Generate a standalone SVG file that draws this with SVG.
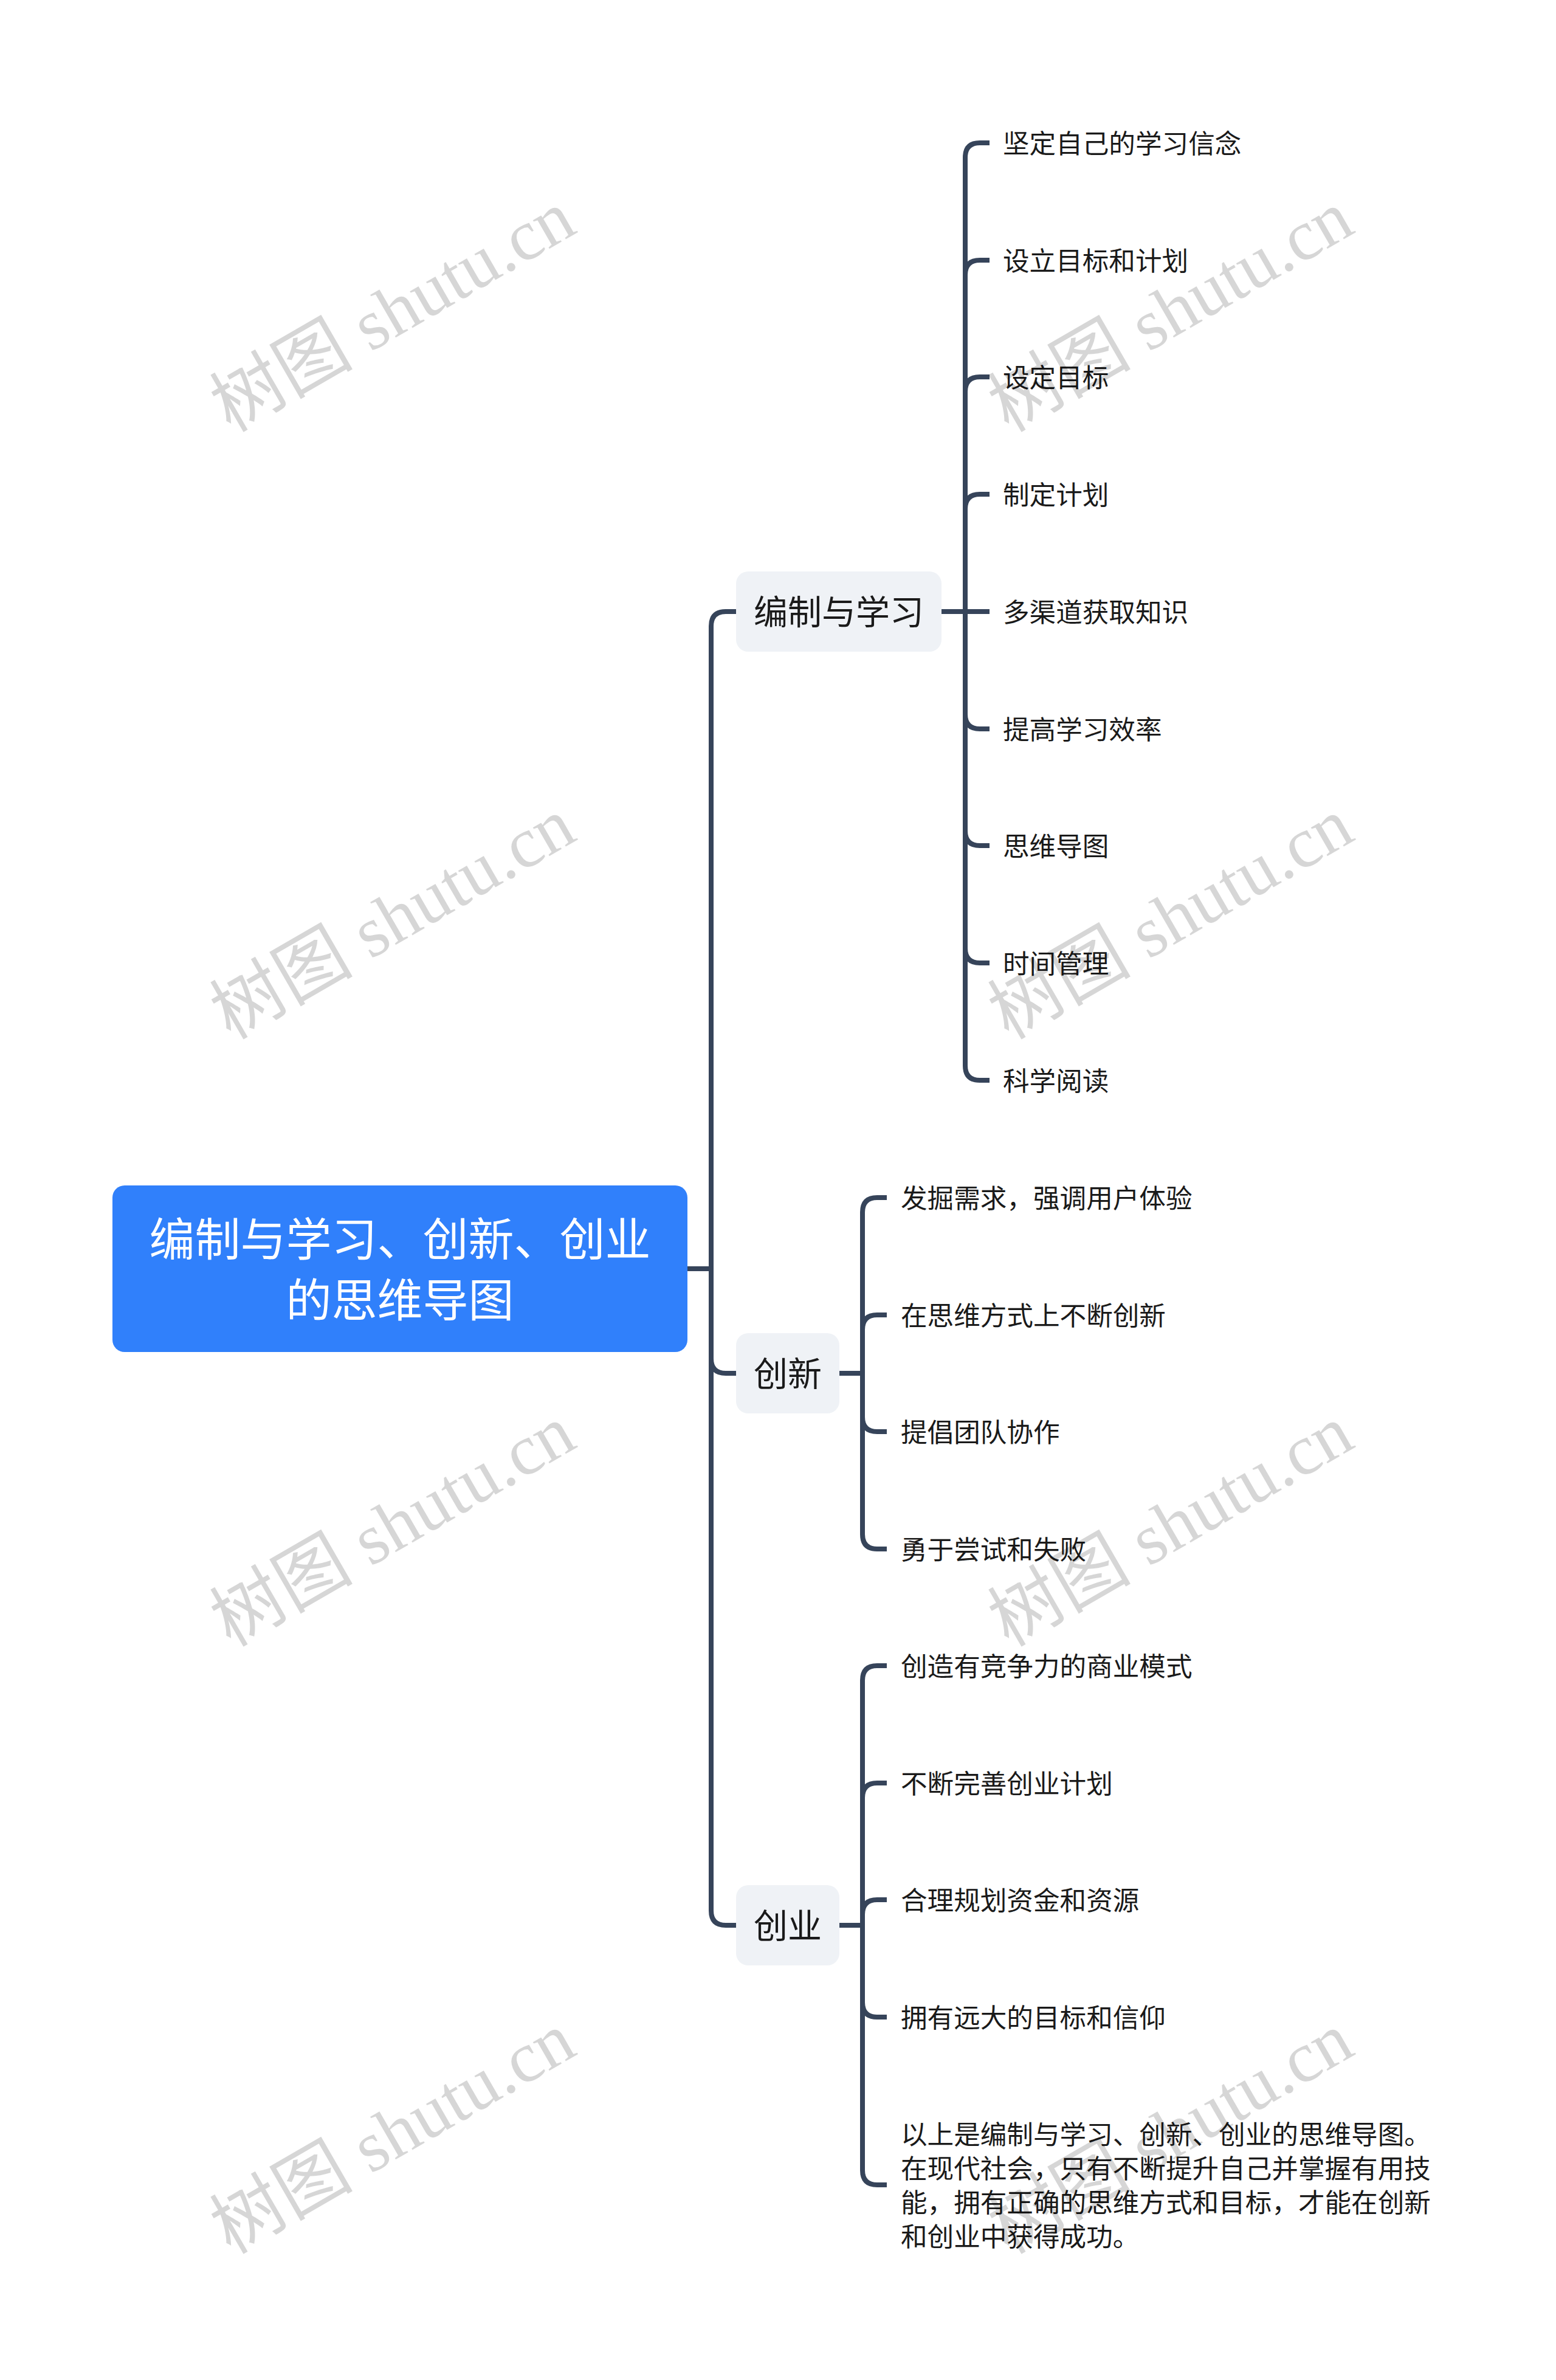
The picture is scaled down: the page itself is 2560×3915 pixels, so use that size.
<svg xmlns="http://www.w3.org/2000/svg" width="2560" height="3915" viewBox="0 0 2560 3915">
<style>
.bg{fill:#ffffff}
.root{fill:#3080fb}
.rootText{font-family:"Noto Sans CJK SC","Noto Sans",sans-serif;font-size:75px;fill:#ffffff;text-anchor:middle}
.branch{fill:#eff2f6}
.branchText{font-family:"Noto Sans CJK SC","Noto Sans",sans-serif;font-size:56px;fill:#1a1a1a;text-anchor:middle}
.leafText{font-family:"Noto Sans CJK SC","Noto Sans",sans-serif;font-size:43.6px;fill:#1a1a1a}
.conn{fill:none;stroke:#36445a;stroke-width:8;stroke-linecap:butt;stroke-linejoin:round}
.wm{font-family:"Liberation Serif","Noto Sans CJK SC",serif;font-size:118px;fill:#000000;fill-opacity:0.16;text-anchor:middle}
</style>
<rect class="bg" x="0" y="0" width="2560" height="3915"/>

<g id="connectors">
  <path class="conn" d="M1131,2087 H1170 V1030 Q1170,1006 1194,1006 H1211"/>
  <path class="conn" d="M1131,2087 H1170 V2235 Q1170,2259 1194,2259 H1211"/>
  <path class="conn" d="M1131,2087 H1170 V3143 Q1170,3167 1194,3167 H1211"/>
  <path class="conn" d="M1549,1006 H1588 V259 Q1588,235 1612,235 H1628"/>
  <path class="conn" d="M1549,1006 H1588 V452 Q1588,428 1612,428 H1628"/>
  <path class="conn" d="M1549,1006 H1588 V644 Q1588,620 1612,620 H1628"/>
  <path class="conn" d="M1549,1006 H1588 V837 Q1588,813 1612,813 H1628"/>
  <path class="conn" d="M1549,1006 H1628"/>
  <path class="conn" d="M1549,1006 H1588 V1175 Q1588,1199 1612,1199 H1628"/>
  <path class="conn" d="M1549,1006 H1588 V1367 Q1588,1391 1612,1391 H1628"/>
  <path class="conn" d="M1549,1006 H1588 V1560 Q1588,1584 1612,1584 H1628"/>
  <path class="conn" d="M1549,1006 H1588 V1753 Q1588,1777 1612,1777 H1628"/>
  <path class="conn" d="M1381,2259 H1419 V1994 Q1419,1970 1443,1970 H1459"/>
  <path class="conn" d="M1381,2259 H1419 V2187 Q1419,2163 1443,2163 H1459"/>
  <path class="conn" d="M1381,2259 H1419 V2331 Q1419,2355 1443,2355 H1459"/>
  <path class="conn" d="M1381,2259 H1419 V2524 Q1419,2548 1443,2548 H1459"/>
  <path class="conn" d="M1381,3167 H1419 V2764 Q1419,2740 1443,2740 H1459"/>
  <path class="conn" d="M1381,3167 H1419 V2957 Q1419,2933 1443,2933 H1459"/>
  <path class="conn" d="M1381,3167 H1419 V3149 Q1419,3125 1443,3125 H1459"/>
  <path class="conn" d="M1381,3167 H1419 V3294 Q1419,3318 1443,3318 H1459"/>
  <path class="conn" d="M1381,3167 H1419 V3570 Q1419,3594 1443,3594 H1459"/>
</g>

<g id="root">
  <rect class="root" x="185" y="1950" width="946" height="274" rx="20"/>
  <text class="rootText" x="658" y="2066">编制与学习、创新、创业</text>
  <text class="rootText" x="658" y="2166">的思维导图</text>
</g>

<g id="branch-xuexi">
  <rect class="branch" x="1211" y="940" width="338" height="132" rx="20"/>
  <text class="branchText" x="1380" y="1027">编制与学习</text>
</g>
<g id="branch-chuangxin">
  <rect class="branch" x="1211" y="2193" width="170" height="132" rx="20"/>
  <text class="branchText" x="1296" y="2280">创新</text>
</g>
<g id="branch-chuangye">
  <rect class="branch" x="1211" y="3101" width="170" height="132" rx="20"/>
  <text class="branchText" x="1296" y="3188">创业</text>
</g>

<g id="leaf-1"><text class="leafText" x="1650" y="252">坚定自己的学习信念</text></g>
<g id="leaf-2"><text class="leafText" x="1650" y="445">设立目标和计划</text></g>
<g id="leaf-3"><text class="leafText" x="1650" y="637">设定目标</text></g>
<g id="leaf-4"><text class="leafText" x="1650" y="830">制定计划</text></g>
<g id="leaf-5"><text class="leafText" x="1650" y="1023">多渠道获取知识</text></g>
<g id="leaf-6"><text class="leafText" x="1650" y="1216">提高学习效率</text></g>
<g id="leaf-7"><text class="leafText" x="1650" y="1408">思维导图</text></g>
<g id="leaf-8"><text class="leafText" x="1650" y="1601">时间管理</text></g>
<g id="leaf-9"><text class="leafText" x="1650" y="1794">科学阅读</text></g>

<g id="leaf-10"><text class="leafText" x="1482" y="1987">发掘需求，强调用户体验</text></g>
<g id="leaf-11"><text class="leafText" x="1482" y="2180">在思维方式上不断创新</text></g>
<g id="leaf-12"><text class="leafText" x="1482" y="2372">提倡团队协作</text></g>
<g id="leaf-13"><text class="leafText" x="1482" y="2565">勇于尝试和失败</text></g>

<g id="leaf-14"><text class="leafText" x="1482" y="2757">创造有竞争力的商业模式</text></g>
<g id="leaf-15"><text class="leafText" x="1482" y="2950">不断完善创业计划</text></g>
<g id="leaf-16"><text class="leafText" x="1482" y="3142">合理规划资金和资源</text></g>
<g id="leaf-17"><text class="leafText" x="1482" y="3335">拥有远大的目标和信仰</text></g>
<g id="leaf-18">
  <text class="leafText" x="1482" y="3527">以上是编制与学习、创新、创业的思维导图。</text>
  <text class="leafText" x="1482" y="3583">在现代社会，只有不断提升自己并掌握有用技</text>
  <text class="leafText" x="1482" y="3639">能，拥有正确的思维方式和目标，才能在创新</text>
  <text class="leafText" x="1482" y="3695">和创业中获得成功。</text>
</g>

<g id="watermarks">
  <text class="wm" x="646" y="552" transform="rotate(-30 646 512)">树图 shutu.cn</text>
  <text class="wm" x="1926" y="552" transform="rotate(-30 1926 512)">树图 shutu.cn</text>
  <text class="wm" x="646" y="1551" transform="rotate(-30 646 1511)">树图 shutu.cn</text>
  <text class="wm" x="1926" y="1551" transform="rotate(-30 1926 1511)">树图 shutu.cn</text>
  <text class="wm" x="646" y="2550" transform="rotate(-30 646 2510)">树图 shutu.cn</text>
  <text class="wm" x="1926" y="2550" transform="rotate(-30 1926 2510)">树图 shutu.cn</text>
  <text class="wm" x="646" y="3549" transform="rotate(-30 646 3509)">树图 shutu.cn</text>
  <text class="wm" x="1926" y="3549" transform="rotate(-30 1926 3509)">树图 shutu.cn</text>
</g>
</svg>
